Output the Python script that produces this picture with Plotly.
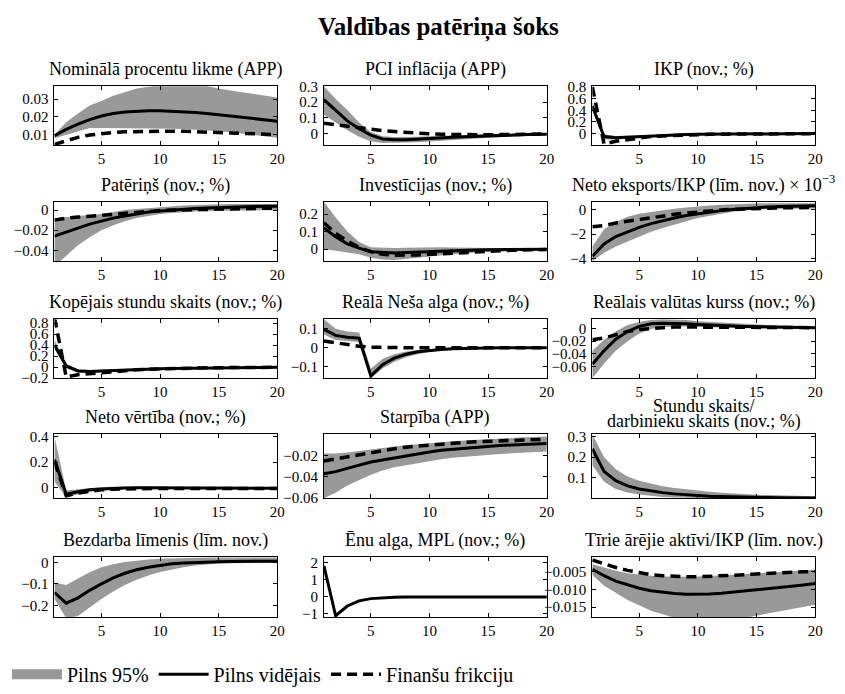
import plotly.graph_objects as go

# Horizon (quarters)
quarters = list(range(1, 21))

# --- Nominālā procentu likme (APP)
nom_mean = [0.0094, 0.013, 0.016, 0.0185, 0.0205, 0.022, 0.0228, 0.0233, 0.0235, 0.0235,
            0.0233, 0.023, 0.0225, 0.022, 0.0213, 0.0206, 0.0198, 0.019, 0.0182, 0.0176]
nom_hi = [0.010, 0.017, 0.022, 0.0265, 0.029, 0.032, 0.034, 0.036, 0.037, 0.038,
          0.038, 0.038, 0.038, 0.0375, 0.036, 0.035, 0.034, 0.033, 0.032, 0.031]
nom_lo = [0.008, 0.010, 0.012, 0.0137, 0.0137, 0.0137, 0.0137, 0.0137, 0.0136, 0.0135,
          0.0134, 0.0132, 0.0129, 0.0125, 0.012, 0.0113, 0.0106, 0.0098, 0.009, 0.0083]
nom_ff = [0.0045, 0.0065, 0.0085, 0.0098, 0.0106, 0.0112, 0.0116, 0.0118, 0.0119, 0.012,
          0.012, 0.0119, 0.0117, 0.0115, 0.0113, 0.011, 0.0108, 0.0105, 0.0103, 0.010]

# --- PCI inflācija (APP)
pci_mean = [0.215, 0.15, 0.08, 0.03, -0.01, -0.035, -0.04, -0.04, -0.037, -0.033,
            -0.028, -0.024, -0.02, -0.017, -0.014, -0.011, -0.009, -0.007, -0.005, -0.004]
pci_hi = [0.30, 0.22, 0.15, 0.07, 0.01, -0.018, -0.022, -0.022, -0.02, -0.017,
          -0.014, -0.011, -0.009, -0.007, -0.005, -0.004, -0.003, -0.002, -0.001, 0.0]
pci_lo = [0.12, 0.07, 0.02, -0.02, -0.05, -0.06, -0.06, -0.058, -0.055, -0.05,
          -0.045, -0.04, -0.035, -0.03, -0.026, -0.022, -0.019, -0.016, -0.014, -0.012]
pci_ff = [0.065, 0.055, 0.045, 0.035, 0.025, 0.018, 0.012, 0.006, 0.002, -0.002,
          -0.005, -0.007, -0.008, -0.008, -0.008, -0.007, -0.006, -0.005, -0.004, -0.003]

# --- IKP (nov.; %)
ikp_mean = [0.47, -0.05, -0.07, -0.06, -0.045, -0.035, -0.025, -0.02, -0.015, -0.01,
            -0.008, -0.006, -0.004, -0.003, -0.002, -0.001, 0.0, 0.0, 0.0, 0.0]
ikp_hi = [0.55, -0.01, -0.04, -0.035, -0.025, -0.018, -0.012, -0.008, -0.005, -0.002,
          0.0, 0.002, 0.003, 0.004, 0.005, 0.006, 0.006, 0.006, 0.006, 0.006]
ikp_lo = [0.40, -0.10, -0.10, -0.085, -0.07, -0.055, -0.042, -0.034, -0.027, -0.021,
          -0.017, -0.014, -0.011, -0.009, -0.008, -0.007, -0.006, -0.005, -0.005, -0.005]
ikp_ff = [0.80, -0.18, -0.13, -0.10, -0.07, -0.05, -0.04, -0.03, -0.022, -0.016,
          -0.012, -0.009, -0.007, -0.005, -0.004, -0.003, -0.002, -0.002, -0.001, -0.001]

# --- Patēriņš (nov.; %)
pat_mean = [-0.026, -0.022, -0.018, -0.014, -0.011, -0.008, -0.006, -0.004, -0.002, -0.001,
            0.0, 0.001, 0.0015, 0.002, 0.0025, 0.003, 0.0033, 0.0035, 0.0037, 0.0038]
pat_hi = [-0.008, -0.007, -0.006, -0.005, -0.004, -0.002, 0.0, 0.001, 0.002, 0.003,
          0.004, 0.0045, 0.005, 0.0055, 0.006, 0.006, 0.006, 0.006, 0.006, 0.006]
pat_lo = [-0.056, -0.045, -0.035, -0.027, -0.02, -0.015, -0.011, -0.008, -0.006, -0.004,
          -0.003, -0.002, -0.0015, -0.001, -0.0007, -0.0005, -0.0003, -0.0002, -0.0001, 0.0]
pat_ff = [-0.010, -0.008, -0.007, -0.006, -0.005, -0.004, -0.003, -0.002, -0.0012, -0.0005,
          0.0, 0.0003, 0.0006, 0.0009, 0.0012, 0.0014, 0.0016, 0.0018, 0.0019, 0.002]

# --- Investīcijas (nov.; %)
inv_mean = [0.12, 0.07, 0.03, 0.005, -0.015, -0.02, -0.022, -0.02, -0.017, -0.014,
            -0.011, -0.009, -0.007, -0.005, -0.004, -0.003, -0.002, -0.0015, -0.001, -0.001]
inv_hi = [0.27, 0.18, 0.10, 0.04, 0.01, 0.006, 0.006, 0.008, 0.01, 0.01,
          0.01, 0.009, 0.008, 0.007, 0.006, 0.005, 0.004, 0.003, 0.003, 0.002]
inv_lo = [0.0, -0.01, -0.02, -0.03, -0.05, -0.06, -0.062, -0.058, -0.05, -0.042,
          -0.035, -0.029, -0.024, -0.019, -0.015, -0.012, -0.01, -0.008, -0.006, -0.005]
inv_ff = [0.15, 0.09, 0.045, 0.01, -0.015, -0.03, -0.035, -0.036, -0.034, -0.03,
          -0.026, -0.022, -0.018, -0.015, -0.012, -0.009, -0.007, -0.005, -0.004, -0.003]

# --- Neto eksports/IKP (līm. nov.) x 10^-3
nx_mean = [-3.8, -2.8, -2.2, -1.8, -1.45, -1.15, -0.9, -0.7, -0.5, -0.35,
           -0.22, -0.1, 0.0, 0.08, 0.15, 0.2, 0.24, 0.27, 0.29, 0.3]
nx_hi = [-3.0, -1.6, -1.0, -0.6, -0.35, -0.2, -0.05, 0.05, 0.15, 0.25,
         0.32, 0.38, 0.42, 0.45, 0.48, 0.5, 0.5, 0.5, 0.5, 0.5]
nx_lo = [-4.2, -3.5, -3.0, -2.6, -2.2, -1.8, -1.5, -1.2, -0.95, -0.7,
         -0.5, -0.35, -0.2, -0.1, 0.0, 0.03, 0.05, 0.06, 0.07, 0.08]
nx_ff = [-1.4, -1.3, -1.1, -0.95, -0.8, -0.65, -0.5, -0.4, -0.3, -0.2,
         -0.12, -0.05, 0.0, 0.05, 0.08, 0.1, 0.12, 0.13, 0.14, 0.15]

# --- Kopējais stundu skaits (nov.; %)
hrs_mean = [0.40, 0.02, -0.07, -0.08, -0.07, -0.06, -0.05, -0.04, -0.035, -0.03,
            -0.025, -0.021, -0.018, -0.015, -0.012, -0.01, -0.008, -0.007, -0.006, -0.005]
hrs_hi = [0.50, 0.06, -0.04, -0.055, -0.05, -0.043, -0.035, -0.028, -0.023, -0.019,
          -0.015, -0.012, -0.01, -0.008, -0.006, -0.005, -0.004, -0.003, -0.002, -0.002]
hrs_lo = [0.33, -0.02, -0.10, -0.105, -0.09, -0.077, -0.065, -0.053, -0.046, -0.04,
          -0.034, -0.029, -0.025, -0.021, -0.018, -0.015, -0.012, -0.011, -0.01, -0.009]
hrs_ff = [0.90, -0.18, -0.14, -0.12, -0.10, -0.08, -0.065, -0.05, -0.04, -0.032,
          -0.026, -0.021, -0.017, -0.014, -0.011, -0.009, -0.007, -0.006, -0.005, -0.005]

# --- Reālā Neša alga (nov.; %)
nash_mean = [0.097, 0.065, 0.055, 0.05, -0.15, -0.09, -0.055, -0.035, -0.022, -0.014,
             -0.009, -0.005, -0.003, -0.002, -0.001, 0.0, 0.0, 0.0, 0.0, 0.0]
nash_hi = [0.15, 0.10, 0.085, 0.08, -0.11, -0.06, -0.035, -0.02, -0.012, -0.006,
           -0.003, -0.001, 0.0, 0.001, 0.002, 0.002, 0.002, 0.002, 0.002, 0.002]
nash_lo = [0.07, 0.04, 0.035, 0.03, -0.162, -0.11, -0.075, -0.05, -0.035, -0.022,
           -0.015, -0.01, -0.007, -0.005, -0.004, -0.003, -0.002, -0.002, -0.002, -0.002]
nash_ff = [0.035, 0.025, 0.015, 0.008, 0.003, 0.001, 0.0, 0.0, 0.0, 0.0,
           0.0, 0.0, 0.0, 0.0, 0.0, 0.0, 0.0, 0.0, 0.0, 0.0]

# --- Reālais valūtas kurss (nov.; %)
rer_mean = [-0.056, -0.035, -0.017, -0.005, 0.003, 0.007, 0.008, 0.008, 0.007, 0.006,
            0.005, 0.004, 0.0035, 0.003, 0.0025, 0.002, 0.0018, 0.0015, 0.0012, 0.001]
rer_hi = [-0.035, -0.018, -0.005, 0.005, 0.01, 0.013, 0.014, 0.014, 0.013, 0.011,
          0.01, 0.008, 0.007, 0.006, 0.005, 0.0045, 0.004, 0.0035, 0.003, 0.003]
rer_lo = [-0.078, -0.055, -0.035, -0.02, -0.008, -0.001, 0.002, 0.003, 0.003, 0.002,
          0.0015, 0.001, 0.0005, 0.0, 0.0, -0.0005, -0.0005, -0.001, -0.001, -0.001]
rer_ff = [-0.018, -0.015, -0.01, -0.005, -0.002, 0.0, 0.001, 0.002, 0.002, 0.002,
          0.002, 0.002, 0.0018, 0.0016, 0.0015, 0.0014, 0.0013, 0.0012, 0.0011, 0.001]

# --- Neto vērtība (nov.; %)
nw_mean = [0.22, -0.05, -0.03, -0.015, -0.008, -0.003, 0.0, 0.001, 0.001, 0.0,
           -0.001, -0.001, -0.002, -0.002, -0.002, -0.003, -0.003, -0.003, -0.003, -0.003]
nw_hi = [0.40, -0.02, -0.01, 0.0, 0.005, 0.008, 0.01, 0.01, 0.009, 0.008,
         0.006, 0.005, 0.004, 0.003, 0.002, 0.001, 0.0, 0.0, 0.0, 0.0]
nw_lo = [0.05, -0.075, -0.05, -0.03, -0.02, -0.014, -0.01, -0.008, -0.007, -0.007,
         -0.007, -0.007, -0.007, -0.007, -0.007, -0.007, -0.007, -0.007, -0.007, -0.007]
nw_ff = [0.20, -0.06, -0.04, -0.025, -0.015, -0.01, -0.007, -0.005, -0.004, -0.004,
         -0.004, -0.004, -0.005, -0.005, -0.005, -0.005, -0.005, -0.005, -0.005, -0.005]

# --- Starpība (APP)
spr_mean = [-0.037, -0.035, -0.032, -0.029, -0.026, -0.024, -0.022, -0.02, -0.018, -0.0165,
            -0.015, -0.014, -0.013, -0.012, -0.0112, -0.0105, -0.01, -0.0095, -0.009, -0.0085]
spr_hi = [-0.018, -0.018, -0.017, -0.0155, -0.014, -0.0128, -0.0115, -0.0103, -0.0092, -0.0082,
          -0.0073, -0.0065, -0.0057, -0.005, -0.0044, -0.0038, -0.0033, -0.0028, -0.0024, -0.002]
spr_lo = [-0.060, -0.055, -0.048, -0.043, -0.038, -0.034, -0.031, -0.029, -0.027, -0.025,
          -0.0235, -0.022, -0.021, -0.02, -0.0192, -0.0185, -0.0178, -0.0172, -0.0166, -0.016]
spr_ff = [-0.025, -0.023, -0.021, -0.019, -0.017, -0.015, -0.0135, -0.012, -0.011, -0.01,
          -0.009, -0.0082, -0.0075, -0.007, -0.0065, -0.006, -0.0055, -0.005, -0.0047, -0.0045]

# --- Stundu skaits / darbinieku skaits (nov.; %)
hpw_mean = [0.24, 0.13, 0.085, 0.06, 0.045, 0.035, 0.027, 0.021, 0.016, 0.013,
            0.01, 0.008, 0.006, 0.005, 0.004, 0.003, 0.002, 0.002, 0.001, 0.001]
hpw_hi = [0.31, 0.20, 0.14, 0.105, 0.085, 0.07, 0.058, 0.049, 0.042, 0.036,
          0.031, 0.027, 0.023, 0.02, 0.017, 0.015, 0.013, 0.011, 0.01, 0.009]
hpw_lo = [0.16, 0.08, 0.045, 0.028, 0.018, 0.011, 0.006, 0.003, 0.001, 0.0,
          0.0, 0.0, 0.0, 0.0, 0.0, 0.0, 0.0, 0.0, 0.0, 0.0]

# --- Bezdarba līmenis (līm. nov.)
unr_mean = [-0.14, -0.19, -0.165, -0.13, -0.10, -0.072, -0.05, -0.034, -0.022, -0.013,
            -0.006, -0.002, 0.001, 0.003, 0.004, 0.005, 0.005, 0.006, 0.006, 0.006]
unr_hi = [-0.095, -0.105, -0.075, -0.045, -0.022, -0.008, 0.002, 0.009, 0.014, 0.018,
          0.02, 0.022, 0.023, 0.024, 0.024, 0.024, 0.024, 0.024, 0.024, 0.024]
unr_lo = [-0.17, -0.26, -0.25, -0.21, -0.17, -0.135, -0.105, -0.08, -0.06, -0.044,
          -0.032, -0.022, -0.014, -0.009, -0.005, -0.003, -0.002, -0.001, -0.001, -0.001]

# --- Ēnu alga, MPL (nov.; %)
mpl_mean = [1.8, -1.12, -0.55, -0.25, -0.12, -0.07, -0.04, -0.03, -0.02, -0.02,
            -0.02, -0.02, -0.02, -0.02, -0.02, -0.02, -0.02, -0.02, -0.02, -0.02]
mpl_hi = [1.85, -1.02, -0.5, -0.21, -0.09, -0.04, -0.015, -0.005, 0.0, 0.0,
          0.0, 0.0, 0.0, 0.0, 0.0, 0.0, 0.0, 0.0, 0.0, 0.0]
mpl_lo = [1.75, -1.2, -0.6, -0.29, -0.15, -0.1, -0.065, -0.055, -0.045, -0.04,
          -0.04, -0.04, -0.04, -0.04, -0.04, -0.04, -0.04, -0.04, -0.04, -0.04]

# --- Tīrie ārējie aktīvi/IKP (līm. nov.)
nfa_mean = [-0.0044, -0.0062, -0.0077, -0.0088, -0.0097, -0.0104, -0.0109, -0.0112, -0.0114, -0.0114,
            -0.0113, -0.0111, -0.0108, -0.0105, -0.0102, -0.0098, -0.0095, -0.0091, -0.0088, -0.0084]
nfa_hi = [-0.003, -0.004, -0.0048, -0.0055, -0.0059, -0.0062, -0.0064, -0.0065, -0.0065, -0.0064,
          -0.0063, -0.0061, -0.0059, -0.0057, -0.0055, -0.0053, -0.0051, -0.0049, -0.0047, -0.0045]
nfa_lo = [-0.006, -0.009, -0.011, -0.013, -0.0145, -0.016, -0.017, -0.018, -0.0185, -0.019,
          -0.019, -0.0188, -0.0184, -0.018, -0.0174, -0.0168, -0.0161, -0.0155, -0.0149, -0.0143]
nfa_ff = [-0.0018, -0.0029, -0.0039, -0.0047, -0.0054, -0.0059, -0.0062, -0.0064, -0.0065, -0.0065,
          -0.0064, -0.0063, -0.0061, -0.0059, -0.0057, -0.0055, -0.0053, -0.0052, -0.0051, -0.005]

# title, mean, lower band, upper band, financial-frictions line, y-range, y ticks
panels = [
    ("Nominālā procentu likme (APP)", nom_mean, nom_lo, nom_hi, nom_ff,
     [0.004, 0.0373], [0.01, 0.02, 0.03], ["0.01", "0.02", "0.03"]),
    ("PCI inflācija (APP)", pci_mean, pci_lo, pci_hi, pci_ff,
     [-0.075, 0.3], [0, 0.1, 0.2, 0.3], ["0", "0.1", "0.2", "0.3"]),
    ("IKP (nov.; %)", ikp_mean, ikp_lo, ikp_hi, ikp_ff,
     [-0.2, 0.81], [0, 0.2, 0.4, 0.6, 0.8], ["0", "0.2", "0.4", "0.6", "0.8"]),
    ("Patēriņš (nov.; %)", pat_mean, pat_lo, pat_hi, pat_ff,
     [-0.051, 0.0077], [-0.04, -0.02, 0], ["−0.04", "−0.02", "0"]),
    ("Investīcijas (nov.; %)", inv_mean, inv_lo, inv_hi, inv_ff,
     [-0.07, 0.267], [0, 0.1, 0.2], ["0", "0.1", "0.2"]),
    ("Neto eksports/IKP (līm. nov.) × 10<sup>−3</sup>", nx_mean, nx_lo, nx_hi, nx_ff,
     [-4.2, 0.57], [-4, -2, 0], ["−4", "−2", "0"]),
    ("Kopējais stundu skaits (nov.; %)", hrs_mean, hrs_lo, hrs_hi, hrs_ff,
     [-0.205, 0.87], [-0.2, 0, 0.2, 0.4, 0.6, 0.8], ["−0.2", "0", "0.2", "0.4", "0.6", "0.8"]),
    ("Reālā Neša alga (nov.; %)", nash_mean, nash_lo, nash_hi, nash_ff,
     [-0.162, 0.15], [-0.1, 0, 0.1], ["−0.1", "0", "0.1"]),
    ("Reālais valūtas kurss (nov.; %)", rer_mean, rer_lo, rer_hi, rer_ff,
     [-0.078, 0.014], [-0.06, -0.04, -0.02, 0], ["−0.06", "−0.04", "−0.02", "0"]),
    ("Neto vērtība (nov.; %)", nw_mean, nw_lo, nw_hi, nw_ff,
     [-0.08, 0.416], [0, 0.2, 0.4], ["0", "0.2", "0.4"]),
    ("Starpība (APP)", spr_mean, spr_lo, spr_hi, spr_ff,
     [-0.06, 0.0], [-0.06, -0.04, -0.02], ["−0.06", "−0.04", "−0.02"]),
    (["Stundu skaits/", "darbinieku skaits (nov.; %)"], hpw_mean, hpw_lo, hpw_hi, None,
     [0.0, 0.31], [0.1, 0.2, 0.3], ["0.1", "0.2", "0.3"]),
    ("Bezdarba līmenis (līm. nov.)", unr_mean, unr_lo, unr_hi, None,
     [-0.255, 0.025], [-0.2, -0.1, 0], ["−0.2", "−0.1", "0"]),
    ("Ēnu alga, MPL (nov.; %)", mpl_mean, mpl_lo, mpl_hi, None,
     [-1.2, 2.3], [-1, 0, 1, 2], ["−1", "0", "1", "2"]),
    ("Tīrie ārējie aktīvi/IKP (līm. nov.)", nfa_mean, nfa_lo, nfa_hi, nfa_ff,
     [-0.0178, -0.001], [-0.015, -0.010, -0.005], ["−0.015", "−0.010", "−0.005"]),
]

W, H = 845, 694
col_left = [55, 327, 598]
col_width = 225
row_top = [81, 201, 322, 441, 568]
row_height = [61, 61, 61, 66, 62]

BAND = "#999999"
FONT = "Liberation Serif, Times New Roman, DejaVu Serif, serif"
DASH = "10px,6px"

fig = go.Figure()
annotations = []


def title_note(text, xc, ytop, shift):
    return dict(text=text, x=xc, y=ytop, xref="paper", yref="paper",
                xanchor="center", yanchor="bottom", yshift=shift, showarrow=False,
                font=dict(family=FONT, size=18, color="black"))


# legend entry for the 95% band, drawn as a thick grey swatch
fig.add_trace(go.Scatter(x=[None], y=[None], mode="lines", line=dict(width=22, color=BAND),
                         name="Pilns 95%", showlegend=True, legendrank=1, hoverinfo="skip"))

for i, (title, mean, lo, hi, ff, yr, tv, tt) in enumerate(panels):
    r, c = divmod(i, 3)
    n = i + 1
    xa = "x" if n == 1 else f"x{n}"
    ya = "y" if n == 1 else f"y{n}"
    first = i == 0

    fig.add_trace(go.Scatter(x=quarters, y=lo, mode="lines", line=dict(width=0, color=BAND),
                             xaxis=xa, yaxis=ya, showlegend=False, hoverinfo="skip"))
    fig.add_trace(go.Scatter(x=quarters, y=hi, mode="lines", line=dict(width=0, color=BAND),
                             fill="tonexty", fillcolor=BAND, xaxis=xa, yaxis=ya,
                             name="Pilns 95%", showlegend=False))
    fig.add_trace(go.Scatter(x=quarters, y=mean, mode="lines", line=dict(width=3, color="black"),
                             xaxis=xa, yaxis=ya, name="Pilns vidējais", showlegend=first,
                             legendrank=2))
    if ff is not None:
        fig.add_trace(go.Scatter(x=quarters, y=ff, mode="lines",
                                 line=dict(width=3.5, color="black", dash=DASH),
                                 xaxis=xa, yaxis=ya, name="Finanšu frikciju",
                                 showlegend=first, legendrank=3))

    x0 = col_left[c] / W
    x1 = (col_left[c] + col_width) / W
    y1 = 1 - row_top[r] / H
    y0 = 1 - (row_top[r] + row_height[r]) / H
    axis_common = dict(showline=True, linecolor="black", linewidth=1, mirror="ticks",
                       ticks="inside", ticklen=4, tickcolor="black", showgrid=False,
                       zeroline=False, tickfont=dict(family=FONT, size=15, color="black"))
    fig.layout[f"xaxis{'' if n == 1 else n}"] = dict(
        domain=[x0, x1], anchor=ya, range=[1, 20], tickvals=[5, 10, 15, 20],
        ticktext=["5", "10", "15", "20"], **axis_common)
    fig.layout[f"yaxis{'' if n == 1 else n}"] = dict(
        domain=[y0, y1], anchor=xa, range=yr, tickvals=tv, ticktext=tt, ticklabelstandoff=2,
        **axis_common)

    xc = (x0 + x1) / 2
    if isinstance(title, list):
        annotations.append(title_note(title[0], xc, y1, 16))
        annotations.append(title_note(title[1], xc, y1, 0))
    else:
        annotations.append(title_note(title, xc, y1, 4))

annotations.append(dict(text="<b>Valdības patēriņa šoks</b>", x=443 / W, y=1 - 20 / H,
                        xref="paper", yref="paper", xanchor="center", yanchor="middle",
                        showarrow=False, font=dict(family=FONT, size=25, color="black")))

fig.update_layout(
    width=W, height=H, margin=dict(l=0, r=0, t=0, b=0),
    paper_bgcolor="white", plot_bgcolor="white",
    annotations=annotations,
    legend=dict(orientation="h", x=7 / W, y=1 - 669 / H, xanchor="left", yanchor="top",
                font=dict(family=FONT, size=20, color="black"), traceorder="normal",
                itemwidth=50, bgcolor="rgba(0,0,0,0)"),
)

fig.write_html("out.html")
